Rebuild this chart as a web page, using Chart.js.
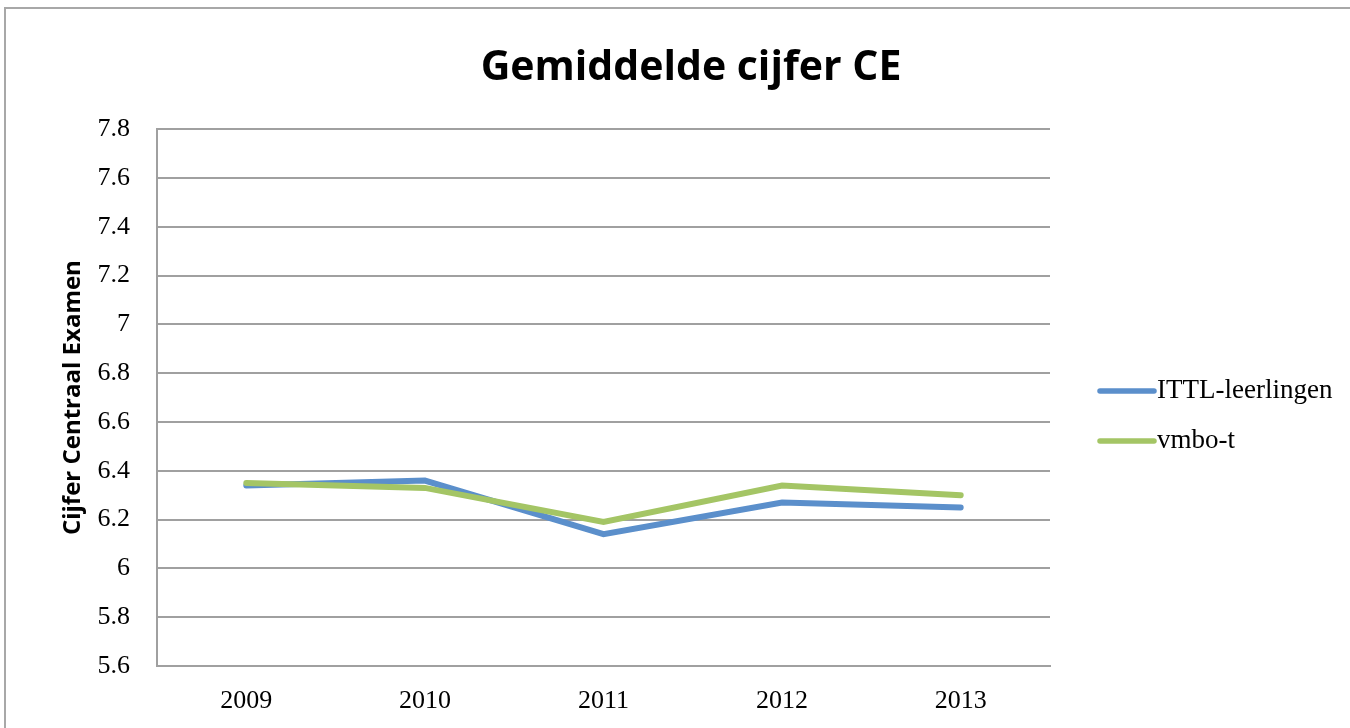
<!DOCTYPE html>
<html>
<head>
<meta charset="utf-8">
<script src="https://cdn.jsdelivr.net/npm/chart.js@4.4.0/dist/chart.umd.min.js"></script>
<style>
  html, body { margin: 0; padding: 0; background: #fff; overflow: hidden; width: 1350px; height: 728px; }
  #frame { position: absolute; left: 4px; top: 7px; border: 2px solid #a8a8a8; width: 1370px; height: 740px; }
  canvas { display: block; }
</style>
</head>
<body>
<div id="frame"><canvas id="c" width="1370" height="719"></canvas></div>
<script>
const chartTitle = 'Gemiddelde cijfer CE';
const yAxisTitle = 'Cijfer Centraal Examen';
const categories = ['2009', '2010', '2011', '2012', '2013'];
const ittlValues = [6.34, 6.36, 6.14, 6.27, 6.25];
const vmboValues = [6.35, 6.33, 6.19, 6.34, 6.30];
const seriesNames = ['ITTL-leerlingen', 'vmbo-t'];
const yTickValues = [5.6, 5.8, 6.0, 6.2, 6.4, 6.6, 6.8, 7.0, 7.2, 7.4, 7.6, 7.8];

const colors = ['#5B8FCB', '#A4C565'];
const serif = "'Liberation Serif', 'DejaVu Serif', serif";
const sans = "'Open Sans', Lato, sans-serif";

const legendPlugin = {
  id: 'customLegend',
  afterDraw(chart) {
    const ctx = chart.ctx;
    ctx.save();
    chart.data.datasets.forEach((ds, i) => {
      const y = 382 + i * 50;
      ctx.strokeStyle = ds.borderColor;
      ctx.lineWidth = 5.5;
      ctx.lineCap = 'round';
      ctx.beginPath();
      ctx.moveTo(1094, y);
      ctx.lineTo(1148, y);
      ctx.stroke();
      ctx.fillStyle = '#000';
      ctx.font = '27px ' + serif;
      ctx.textBaseline = 'middle';
      ctx.textAlign = 'left';
      ctx.fillText(ds.label, 1151, y);
    });
    ctx.restore();
  }
};

new Chart(document.getElementById('c'), {
  type: 'line',
  data: {
    labels: categories,
    datasets: [
      { label: seriesNames[0], data: ittlValues, borderColor: colors[0], backgroundColor: colors[0], order: 2 },
      { label: seriesNames[1], data: vmboValues, borderColor: colors[1], backgroundColor: colors[1], order: 1 }
    ]
  },
  options: {
    responsive: false,
    animation: false,
    layout: { padding: { left: 0, right: 0, top: 0, bottom: 10 } },
    elements: {
      line: { borderWidth: 6, tension: 0, borderCapStyle: 'round', borderJoinStyle: 'miter', fill: false },
      point: { radius: 0, hoverRadius: 0 }
    },
    plugins: {
      legend: { display: false },
      tooltip: { enabled: false },
      title: {
        display: true,
        text: chartTitle,
        color: '#000',
        font: { family: sans, size: 41, weight: 'bold', lineHeight: 1.2 },
        padding: { top: 35, bottom: 36 }
      }
    },
    scales: {
      x: {
        type: 'category',
        offset: true,
        grid: { display: false, drawTicks: false },
        border: { display: true, color: '#a0a0a0', width: 2 },
        ticks: { color: '#000', font: { family: serif, size: 26 }, padding: 20, maxRotation: 0 },
        afterFit(scale) { scale.height = 52; }
      },
      y: {
        min: 5.6,
        max: 7.8,
        afterBuildTicks(scale) { scale.ticks = yTickValues.map(v => ({ value: v })); },
        grid: { color: '#a0a0a0', lineWidth: 2, drawTicks: false },
        border: { display: true, color: '#a0a0a0', width: 2 },
        ticks: {
          color: '#000',
          font: { family: serif, size: 26 },
          padding: 27,
          callback: v => String(Number(v.toFixed(1)))
        },
        title: {
          display: true,
          text: yAxisTitle,
          color: '#000',
          font: { family: sans, size: 24, weight: 'bold', lineHeight: 1.2 },
          padding: { top: 53, bottom: 0 }
        },
        afterFit(scale) { scale.width = 151; }
      },
      legendSpace: {
        position: 'right',
        display: true,
        min: 0,
        max: 1,
        grid: { display: false, drawTicks: false },
        border: { display: false },
        ticks: { display: false },
        afterFit(scale) { scale.width = 326; }
      }
    }
  },
  plugins: [legendPlugin]
});
</script>
</body>
</html>
